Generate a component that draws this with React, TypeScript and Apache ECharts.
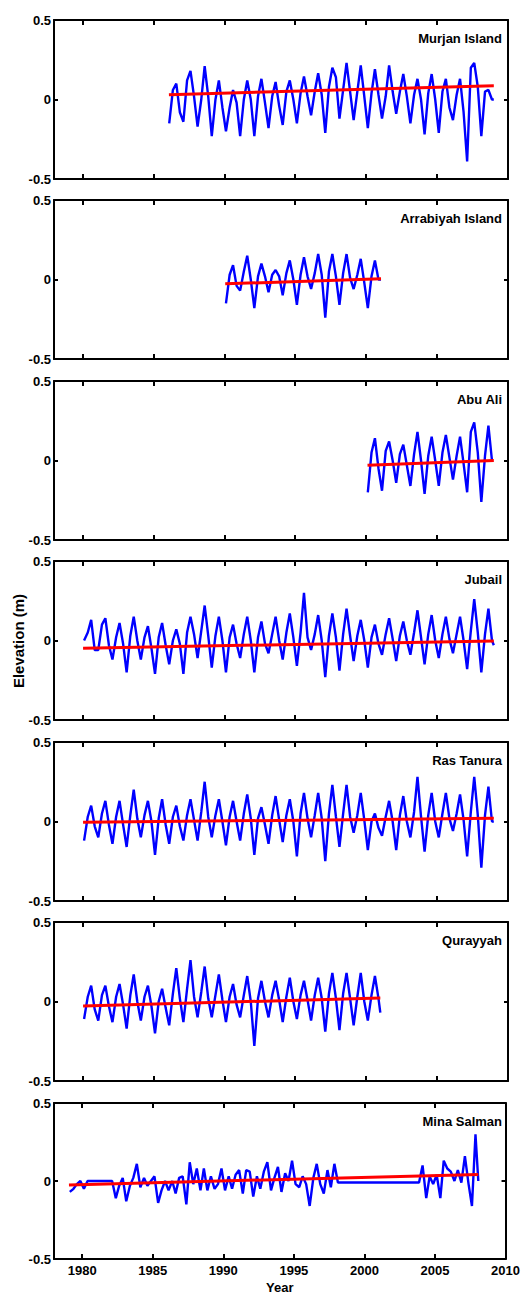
import { useEffect, useRef } from "react";
import * as echarts from "echarts";

// ---------- data ----------
const xTicks = [1980, 1985, 1990, 1995, 2000, 2005, 2010];
const yTicks = [-0.5, 0, 0.5];
// sample times within each year: winter low, spring, summer high, autumn
const quarterOffsets = [0.12, 0.38, 0.62, 0.87];

const stationNames = [
  "Murjan Island",
  "Arrabiyah Island",
  "Abu Ali",
  "Jubail",
  "Ras Tanura",
  "Qurayyah",
  "Mina Salman",
];
const stationStartYears = [1986, 1990, 2000, 1980, 1980, 1980, 1979];

const murjanValues = [
  -0.15, 0.06, 0.1, -0.08, -0.14, 0.12, 0.18, 0.02, -0.17, 0.0, 0.21, 0.02,
  -0.23, 0.0, 0.12, -0.05, -0.2, -0.05, 0.06, -0.02, -0.23, 0.0, 0.12, 0.0,
  -0.23, 0.02, 0.13, -0.02, -0.18, 0.02, 0.11, -0.04, -0.16, 0.05, 0.12, 0.0,
  -0.15, 0.04, 0.145, 0.02, -0.1, 0.05, 0.165, 0.03, -0.21, 0.08, 0.2, 0.14,
  -0.12, 0.06, 0.23, 0.05, -0.13, 0.05, 0.215, 0.02, -0.18, 0.04, 0.19, 0.03,
  -0.12, 0.02, 0.215, 0.05, -0.09, 0.05, 0.16, 0.02, -0.15, 0.03, 0.13, 0.0,
  -0.22, 0.04, 0.16, 0.0, -0.21, 0.05, 0.13, -0.05, -0.13, 0.03, 0.13, -0.08,
  -0.39, 0.2, 0.23, 0.08, -0.23, 0.05, 0.06, 0.0,
];
const arrabiyahValues = [
  -0.15, 0.03, 0.09, -0.04, -0.07, 0.05, 0.15, 0.0, -0.18, 0.02, 0.1, 0.02,
  -0.08, 0.03, 0.06, 0.02, -0.1, 0.04, 0.12, 0.0, -0.16, 0.03, 0.14, 0.02,
  -0.06, 0.04, 0.16, 0.03, -0.24, 0.05, 0.16, 0.02, -0.16, 0.04, 0.16, 0.01,
  -0.06, 0.03, 0.13, -0.02, -0.18, 0.02, 0.12, 0.0,
];
const abuAliValues = [
  -0.2, 0.05, 0.14, -0.05, -0.19, 0.06, 0.12, 0.0, -0.14, 0.04, 0.1, -0.03,
  -0.16, 0.04, 0.18, 0.0, -0.21, 0.03, 0.15, 0.0, -0.16, 0.05, 0.16, 0.02,
  -0.12, 0.03, 0.15, -0.02, -0.2, 0.18, 0.24, 0.05, -0.26, 0.03, 0.22, 0.0,
];
const jubailValues = [
  0.0, 0.05, 0.13, -0.06, -0.06, 0.1, 0.14, -0.03, -0.12, 0.02, 0.11, -0.02,
  -0.2, 0.03, 0.15, 0.0, -0.12, 0.02, 0.09, -0.05, -0.21, 0.02, 0.11, -0.03,
  -0.15, 0.0, 0.07, -0.02, -0.21, 0.05, 0.15, 0.04, -0.11, 0.06, 0.22, 0.03,
  -0.17, 0.03, 0.15, 0.0, -0.2, 0.02, 0.1, -0.02, -0.11, 0.04, 0.15, 0.0,
  -0.2, 0.02, 0.12, -0.02, -0.08, 0.04, 0.15, 0.0, -0.12, 0.05, 0.17, 0.02,
  -0.16, 0.05, 0.3, 0.02, -0.06, 0.04, 0.16, 0.0, -0.23, 0.03, 0.17, 0.02,
  -0.19, 0.04, 0.2, 0.03, -0.13, 0.03, 0.13, 0.0, -0.17, 0.02, 0.1, -0.02,
  -0.09, 0.04, 0.14, 0.01, -0.13, 0.03, 0.12, 0.0, -0.09, 0.05, 0.19, 0.02,
  -0.15, 0.04, 0.16, 0.0, -0.11, 0.04, 0.15, 0.01, -0.08, 0.04, 0.15, 0.0,
  -0.18, 0.06, 0.26, 0.05, -0.2, 0.04, 0.2, 0.0,
];
const rasTanuraValues = [
  -0.12, 0.03, 0.1, -0.03, -0.1, 0.05, 0.13, -0.02, -0.14, 0.03, 0.13, -0.02,
  -0.16, 0.04, 0.2, 0.02, -0.1, 0.04, 0.13, 0.0, -0.21, 0.02, 0.14, -0.02,
  -0.14, 0.03, 0.1, -0.03, -0.12, 0.04, 0.14, 0.01, -0.12, 0.06, 0.25, 0.03,
  -0.1, 0.04, 0.14, 0.0, -0.15, 0.03, 0.13, 0.0, -0.12, 0.05, 0.17, 0.02,
  -0.21, 0.02, 0.09, -0.02, -0.14, 0.04, 0.16, 0.01, -0.13, 0.04, 0.14, 0.0,
  -0.22, 0.05, 0.18, 0.02, -0.1, 0.04, 0.18, 0.02, -0.25, 0.05, 0.23, 0.03,
  -0.16, 0.05, 0.23, 0.03, -0.07, 0.04, 0.18, 0.01, -0.18, 0.0, 0.05, -0.04,
  -0.09, 0.03, 0.13, 0.0, -0.18, 0.04, 0.16, 0.0, -0.1, 0.06, 0.28, 0.03,
  -0.19, 0.04, 0.18, 0.0, -0.1, 0.05, 0.18, 0.02, -0.06, 0.05, 0.17, 0.01,
  -0.22, 0.06, 0.28, 0.04, -0.29, 0.04, 0.22, 0.0,
];
const qurayyahValues = [
  -0.11, 0.03, 0.1, -0.05, -0.12, 0.04, 0.1, -0.03, -0.13, 0.03, 0.11, -0.02,
  -0.17, 0.04, 0.17, 0.0, -0.12, 0.03, 0.1, -0.03, -0.2, 0.0, 0.08, -0.04,
  -0.15, 0.05, 0.21, 0.02, -0.13, 0.08, 0.26, 0.03, -0.1, 0.06, 0.22, 0.02,
  -0.1, 0.04, 0.17, 0.01, -0.13, 0.03, 0.11, -0.02, -0.1, 0.04, 0.16, 0.0,
  -0.28, 0.02, 0.13, 0.0, -0.1, 0.04, 0.13, 0.01, -0.13, 0.03, 0.15, 0.0,
  -0.11, 0.04, 0.13, 0.01, -0.12, 0.04, 0.15, 0.02, -0.19, 0.05, 0.18, 0.02,
  -0.18, 0.05, 0.18, 0.02, -0.15, 0.03, 0.18, 0.0, -0.12, 0.04, 0.16, 0.02,
];
const minaSalmanValues = [
  -0.07, -0.05, -0.02, 0.0, -0.05, 0.0, 0.0, 0.0, 0.0, 0.0, 0.0, 0.0,
  0.0, -0.11, -0.03, 0.02, -0.13, -0.03, 0.02, 0.11, -0.04, 0.02, -0.03, 0.0,
  0.03, -0.14, -0.06, 0.0, -0.06, 0.0, -0.08, 0.02, 0.03, -0.15, 0.12, -0.02,
  0.08, -0.06, 0.08, -0.06, 0.03, -0.05, -0.02, 0.08, -0.06, 0.03, -0.05, 0.04,
  0.07, -0.08, 0.07, 0.06, -0.1, 0.03, -0.05, 0.06, 0.12, -0.06, 0.02, 0.09,
  -0.07, 0.05, 0.0, 0.13, -0.02, -0.04, 0.03, -0.02, -0.16, 0.02, 0.11, -0.02,
  -0.08, 0.07, -0.04, 0.11, -0.01, -0.01, -0.01, -0.01, -0.01, -0.01, -0.01, -0.01,
  -0.01, -0.01, -0.01, -0.01, -0.01, -0.01, -0.01, -0.01, -0.01, -0.01, -0.01, -0.01,
  -0.01, -0.01, -0.01, -0.01, 0.1, -0.11, 0.03, -0.02, 0.04, -0.11, 0.13, 0.08,
  0.06, 0.0, 0.07, -0.01, 0.16, -0.02, -0.16, 0.3,
];
const stationValues = [
  murjanValues,
  arrabiyahValues,
  abuAliValues,
  jubailValues,
  rasTanuraValues,
  qurayyahValues,
  minaSalmanValues,
];
// last observation of each record [year, elevation]
const stationEndPoints = [
  [2009.0, 0.0],
  [2001.05, 0.0],
  [2008.95, 0.0],
  [2009.0, -0.03],
  [2009.0, 0.0],
  [2001.0, -0.07],
  [2008.07, 0.0],
];
// linear trend end points [year, elevation]
const trendStarts = [
  [1986.1, 0.03],
  [1990.07, -0.027],
  [2000.1, -0.03],
  [1980.05, -0.048],
  [1980.05, -0.005],
  [1980.05, -0.028],
  [1979.06, -0.025],
];
const trendEnds = [
  [2009.0, 0.087],
  [2001.05, 0.004],
  [2009.0, 0.0],
  [2009.0, -0.003],
  [2009.0, 0.02],
  [2001.0, 0.022],
  [2008.07, 0.042],
];

// ---------- layout ----------
const W = 523;
const H = 1295;
const panelTops = [20, 200, 381, 561, 742, 922, 1103];
const panelHeight = 159;
const plotLeft = 54;
const plotRight = 15;
const FONT = "'Liberation Sans', Arial, Helvetica, sans-serif";

function buildSeriesData(i: number): number[][] {
  const vals = stationValues[i];
  const start = stationStartYears[i];
  const pts: number[][] = [];
  vals.forEach((v, k) => {
    const yr = start + Math.floor(k / 4) + quarterOffsets[k % 4];
    pts.push([yr, v]);
  });
  pts.push(stationEndPoints[i]);
  return pts;
}

export default function App() {
  const ref = useRef<HTMLDivElement>(null);

  useEffect(() => {
    if (!ref.current) return;
    const chart = echarts.init(ref.current, undefined, { renderer: "svg" });

    const axisLine = { show: true, onZero: false, lineStyle: { color: "#000", width: 2 } };
    const tickStyle = { color: "#000", width: 2 };
    const labelStyle = {
      color: "#000",
      fontWeight: "bold" as const,
      fontSize: 13,
      fontFamily: FONT,
    };

    const grids: any[] = [];
    const xAxes: any[] = [];
    const yAxes: any[] = [];
    const series: any[] = [];
    const graphics: any[] = [];

    stationNames.forEach((name, i) => {
      grids.push({
        left: plotLeft,
        right: plotRight,
        top: panelTops[i],
        height: panelHeight,
      });
      const isLast = i === stationNames.length - 1;
      xAxes.push({
        gridIndex: i,
        type: "value",
        min: 1978,
        max: 2010,
        position: "bottom",
        axisLine,
        axisTick: { show: true, inside: true, length: 5, lineStyle: tickStyle, customValues: xTicks },
        axisLabel: {
          show: isLast,
          customValues: xTicks,
          margin: 5,
          ...labelStyle,
          formatter: (v: number) => String(v),
        },
        splitLine: { show: false },
        name: isLast ? "Year" : "",
        nameLocation: "middle",
        nameGap: 22,
        nameTextStyle: { ...labelStyle },
      });
      xAxes.push({
        gridIndex: i,
        type: "value",
        min: 1978,
        max: 2010,
        position: "top",
        axisLine,
        axisTick: { show: true, inside: true, length: 5, lineStyle: tickStyle, customValues: xTicks },
        axisLabel: { show: false },
        splitLine: { show: false },
      });
      yAxes.push({
        gridIndex: i,
        type: "value",
        min: -0.5,
        max: 0.5,
        interval: 0.5,
        position: "left",
        axisLine,
        axisTick: { show: true, inside: true, length: 4, lineStyle: tickStyle },
        axisLabel: {
          show: true,
          margin: 3,
          ...labelStyle,
          formatter: (v: number) => (yTicks.includes(v) ? (v === 0 ? "0" : String(v)) : ""),
        },
        splitLine: { show: false },
      });
      yAxes.push({
        gridIndex: i,
        type: "value",
        min: -0.5,
        max: 0.5,
        interval: 0.5,
        position: "right",
        axisLine,
        axisTick: { show: true, inside: true, length: 4, lineStyle: tickStyle },
        axisLabel: { show: false },
        splitLine: { show: false },
      });
      series.push({
        type: "line",
        xAxisIndex: 2 * i,
        yAxisIndex: 2 * i,
        data: buildSeriesData(i),
        symbol: "none",
        showSymbol: false,
        lineStyle: { color: "#0000ff", width: 2.4 },
        z: 2,
      });
      series.push({
        type: "line",
        xAxisIndex: 2 * i,
        yAxisIndex: 2 * i,
        data: [trendStarts[i], trendEnds[i]],
        symbol: "none",
        showSymbol: false,
        lineStyle: { color: "#ff0000", width: 3 },
        z: 3,
      });
      graphics.push({
        type: "text",
        x: W - plotRight - 6,
        y: panelTops[i] + 18.5,
        style: {
          text: name,
          align: "right",
          verticalAlign: "middle",
          fill: "#000",
          font: `bold 13px ${FONT}`,
        },
      });
    });

    graphics.push({
      type: "text",
      x: 18,
      y: 641,
      rotation: Math.PI / 2,
      style: {
        text: "Elevation (m)",
        align: "center",
        verticalAlign: "middle",
        fill: "#000",
        font: `bold 15px ${FONT}`,
      },
    });

    chart.setOption({
      animation: false,
      backgroundColor: "#fff",
      grid: grids,
      xAxis: xAxes,
      yAxis: yAxes,
      series,
      graphic: graphics,
    });

    return () => chart.dispose();
  }, []);

  return (
    <div
      ref={ref}
      style={{ position: "absolute", left: 0, top: 0, width: W, height: H }}
    />
  );
}
